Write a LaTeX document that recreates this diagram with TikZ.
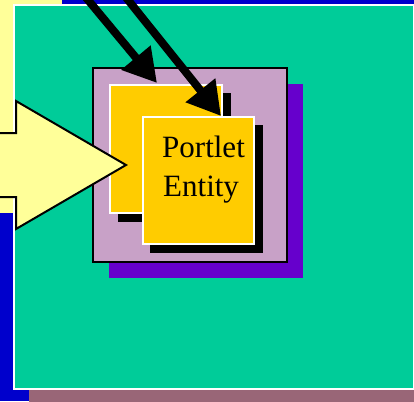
\documentclass[tikz,border=0pt]{standalone}
\usepackage{fontspec}
\setmainfont{Liberation Serif}
\usetikzlibrary{arrows.meta}

\definecolor{deepblue}{HTML}{0000CC}
\definecolor{paleyellow}{HTML}{FFFF99}
\definecolor{seagreen}{HTML}{00CC99}
\definecolor{dustyrose}{HTML}{996677}
\definecolor{violet}{HTML}{6600CC}
\definecolor{lilac}{RGB}{200,161,199}
\definecolor{gold}{HTML}{FFCC00}

\tikzset{
  panel/.style={fill=seagreen, draw=white, line width=2pt},
  holder/.style={fill=lilac, draw=black, line width=2.5pt},
  card/.style={fill=gold, draw=white, line width=2pt},
  cardshadow/.style={fill=black},
  feed/.style={draw=black, line width=8pt,
    -{Triangle[length=33pt,width=36pt]}},
  bigarrow/.style={fill=paleyellow, draw=black, line width=2pt, line join=miter},
  caption/.style={font=\fontsize{31}{38}\selectfont, inner sep=0pt, anchor=base west}
}

\begin{document}
\begin{tikzpicture}[x=1pt,y=-1pt]
  \useasboundingbox (0,0) rectangle (414,401);
  \clip (0,0) rectangle (414,401);

  % backdrop shapes reaching in from the surrounding slide
  \fill[deepblue] (0,0) rectangle (414,401);
  \fill[paleyellow] (-20,-20) rectangle (62,213);

  % large green panel with its shadow
  \fill[dustyrose] (29,20) rectangle (430,410);
  \draw[panel] (14,5) rectangle (413.5,389);

  % holder box with drop shadow
  \fill[violet] (109,84) rectangle (303,278);
  \draw[holder] (93,68) rectangle (287,262);

  % rear card
  \fill[cardshadow] (118,93) rectangle (231,222);
  \draw[card] (110,85) rectangle (222,213);
  \node[inner sep=0pt, minimum width=112pt, minimum height=128pt] (rear) at (166,149) {};

  % front card
  \fill[cardshadow] (150,125) rectangle (263,253);
  \draw[card] (143,117) rectangle (254,244);
  \node[inner sep=0pt, minimum width=111pt, minimum height=127pt] (front) at (198.5,180.5) {};

  \node[caption] (line1) at (162,157) {Portlet};
  \node[caption] (line2) at (163,196) {Entity};

  % incoming arrows from above
  \coordinate (srcA) at (71.4,-20);
  \coordinate (tipA) at (157,83);
  \coordinate (srcB) at (112,-20);
  \coordinate (tipB) at (221,116);
  \draw[feed] (srcA) -- (tipA);
  \draw[feed] (srcB) -- (tipB);

  % broad block arrow from the left
  \draw[bigarrow] (-10,133) -- (16,133) -- (16,101) -- (126,165)
        -- (16,229) -- (16,197) -- (-10,197) -- cycle;
\end{tikzpicture}
\end{document}
